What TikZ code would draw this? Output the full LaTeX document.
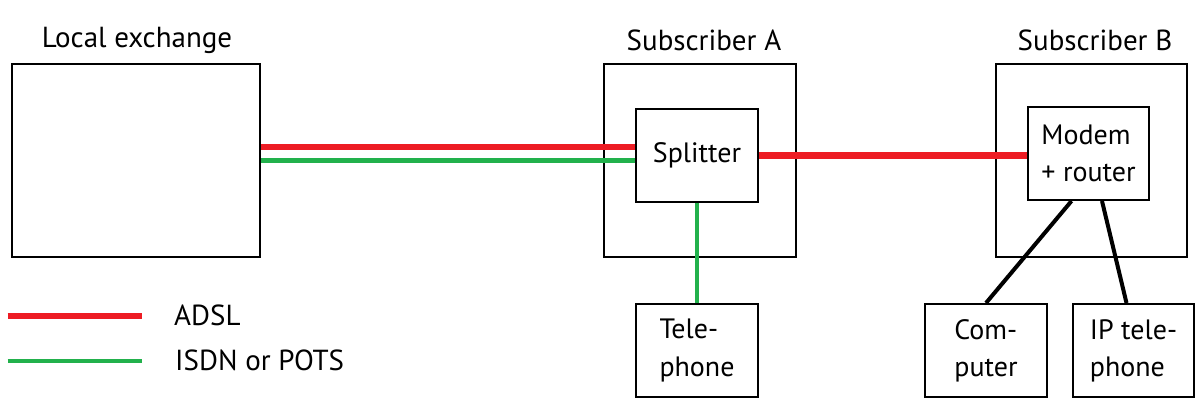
\documentclass[tikz,border=0pt]{standalone}
\usepackage{fontspec}
\setmainfont{PT Sans}
\usetikzlibrary{calc}
\definecolor{adslred}{HTML}{ED1C24}
\definecolor{potsgreen}{HTML}{22B14C}
\tikzset{
 box/.style={draw,line width=2pt,inner sep=0,align=left,font=\fontsize{28}{37}\selectfont},
 caption/.style={inner sep=0,font=\fontsize{29}{34}\selectfont},
 adsl/.style={draw=adslred,line width=6.5pt},
 pots/.style={draw=potsgreen,line width=4.5pt},
 lan/.style={line width=4pt}
}
\begin{document}
\begin{tikzpicture}[x=1pt,y=-1pt]
\useasboundingbox (0,0) rectangle (1197,403);
% outer boxes
\node[box,minimum width=248.5pt,minimum height=193pt] (lex) at (136,160.5) {};
\node[box,minimum width=192pt,minimum height=193pt] (suba) at (700,160.5) {};
\node[box,minimum width=191pt,minimum height=193pt] (subb) at (1091.5,160.5) {};
\node[caption] (lexlabel) at (137,40) {Local exchange};
\node[caption] (subalabel) at (704,40) {Subscriber A};
\node[caption] (subblabel) at (1095,40) {Subscriber B};
% devices
\node[box,minimum width=122pt,minimum height=93pt] (splitter) at (697,155.5) {Splitter};
\node[box,minimum width=121pt,minimum height=93pt] (modem) at (1088.5,153.5) {Modem\\+ router};
\node[box,minimum width=122pt,minimum height=93pt] (phone) at (697,350.5) {Tele-\\phone};
\node[box,minimum width=122pt,minimum height=93pt] (comp) at (986,350.5) {Com-\\puter};
\node[box,minimum width=121pt,minimum height=93pt] (ipphone) at (1133.5,350.5) {IP tele-\\phone};
% lines
\draw[adsl] ([yshift=13.5pt]lex.east) -- ([yshift=13.5pt]lex.east -| splitter.west);
\draw[pots] (lex.east) -- (lex.east -| splitter.west);
\draw[adsl] (splitter.east) -- (splitter.east -| modem.west);
\draw[pots] (splitter.south) -- (phone.north);
\draw[lan] ([xshift=-17pt]modem.south) -- (comp.north);
\draw[lan] ([xshift=13.5pt]modem.south) -- ([xshift=-7pt]ipphone.north);
% legend
\coordinate (adslstart) at (7.5,316);
\coordinate (adslend) at (141.5,316);
\coordinate (potsstart) at (7.5,361);
\coordinate (potsend) at (141.5,361);
\draw[adsl] (adslstart) -- (adslend);
\draw[pots] (potsstart) -- (potsend);
\node[caption,anchor=west] (adsltext) at (174,315) {ADSL};
\node[caption,anchor=west] (potstext) at (175,360) {ISDN or POTS};
\end{tikzpicture}
\end{document}
